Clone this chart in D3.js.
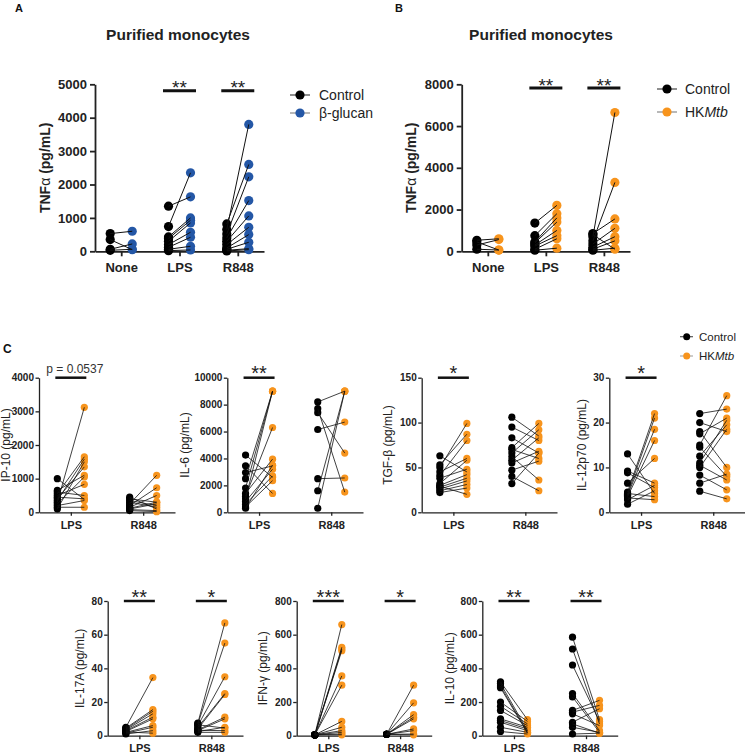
<!DOCTYPE html>
<html><head><meta charset="utf-8">
<script src="https://cdn.jsdelivr.net/npm/d3@7"></script>
<style>body{margin:0;background:#fff}svg{display:block}</style>
</head><body><svg id="c" width="745" height="756"></svg>
<script>
// ---------------- DATA ----------------
const tnfCats = ["None", "LPS", "R848"];
const cCats = ["LPS", "R848"];
const legendA = ["Control", "β-glucan"];
const legendB = ["Control", "HKMtb"];

// pairs: [control, treated]
const aNone = [[530, 600], [350, 50], [60, 220], [30, 60]];
const aLPS = [[1350, 1630], [740, 2350], [430, 1000], [380, 930], [300, 850], [200, 570], [120, 420], [60, 150], [20, 40]];
const aR848 = [[820, 2600], [650, 3800], [520, 2230], [400, 1520], [300, 1060], [200, 720], [100, 500], [60, 270], [30, 80], [10, 50]];

const bNone = [[530, 600], [450, 60], [300, 560], [100, 60]];
const bLPS = [[1350, 2200], [750, 1800], [450, 1600], [400, 1400], [300, 1000], [250, 750], [100, 600], [50, 150]];
const bR848 = [[850, 1550], [700, 6650], [500, 3300], [350, 1100], [200, 700], [100, 500], [50, 150], [800, 100]];

const ip10LPS = [[1000, 380], [650, 1100], [600, 500], [550, 1650], [500, 830], [450, 400], [400, 1350], [350, 1580], [300, 3120], [250, 1050], [200, 350], [150, 150], [100, 1500]];
const ip10R848 = [[450, 100], [400, 300], [350, 200], [300, 150], [250, 1100], [200, 730], [150, 500], [100, 250], [80, 50], [50, 20], [120, 300]];

const il6LPS = [[4250, 2600], [3450, 1400], [2950, 3450], [2500, 9000], [1800, 9000], [1400, 3950], [1200, 6300], [1000, 9000], [800, 3200], [600, 2700], [400, 2350], [300, 3500]];
const il6R848 = [[8200, 9000], [7700, 1500], [7400, 4400], [6150, 6700], [2500, 2550], [1600, 9000], [300, 9000]];

const tgfLPS = [[63, 45], [53, 87], [50, 99], [45, 60], [41, 80], [38, 48], [32, 58], [30, 42], [28, 38], [26, 35], [24, 31], [22, 27], [29, 20]];
const tgfR848 = [[106, 85], [95, 80], [83, 66], [72, 99], [70, 60], [66, 92], [62, 36], [58, 83], [55, 68], [47, 57], [40, 24], [32, 66]];

const il12LPS = [[13, 4.2], [9.2, 6.5], [8.8, 5.5], [6.5, 12], [4.5, 22], [4, 21], [3.8, 18.5], [3.5, 16], [2.8, 6], [1.8, 4.8], [4.2, 3.5], [3.2, 2.8]];
const il12R848 = [[22, 23], [20, 18], [18, 10], [17.5, 21], [15, 26], [14.5, 8], [12.5, 19.5], [11, 20.5], [10.5, 7.2], [10, 18.5], [8.3, 5], [6.5, 8.5], [4.7, 3]];

const il17LPS = [[5, 34.5], [4.5, 15.5], [4, 14.5], [3.5, 13], [3, 11], [2.5, 10], [2, 6], [1.5, 5], [1, 3], [2.2, 1.5]];
const il17R848 = [[7.5, 67], [7, 55], [6, 35], [5, 25], [4, 24.5], [3.5, 11], [3, 10], [2.5, 5], [6.5, 4.5], [3.2, 3], [2, 2]];

const ifnLPS = [[5, 660], [5, 525], [5, 515], [5, 505], [5, 355], [5, 300], [5, 85], [5, 50], [5, 30], [5, 20], [5, 10], [5, 5]];
const ifnR848 = [[8, 300], [8, 195], [8, 125], [8, 110], [8, 100], [8, 40], [8, 30], [8, 10], [8, 5]];

const il10LPS = [[320, 95], [310, 30], [295, 20], [285, 15], [200, 85], [175, 70], [150, 60], [100, 50], [90, 40], [80, 30], [50, 20], [25, 10]];
const il10R848 = [[585, 95], [515, 70], [420, 85], [250, 30], [230, 20], [150, 210], [140, 180], [130, 60], [80, 160], [70, 15], [50, 20], [10, 15]];

const ticksA = [0, 1000, 2000, 3000, 4000, 5000];
const ticksB = [0, 2000, 4000, 6000, 8000];
const ticksIP10 = [0, 1000, 2000, 3000, 4000];
const ticksIL6 = [0, 2000, 4000, 6000, 8000, 10000];
const ticksTGF = [0, 50, 100, 150];
const ticksIL12 = [0, 10, 20, 30];
const ticksIL17 = [0, 20, 40, 60, 80];
const ticksIFN = [0, 200, 400, 600, 800];
const ticksIL10 = [0, 200, 400, 600, 800];

// ---------------- STYLE ----------------
const FONT = '"Liberation Sans", Arial, Helvetica, sans-serif';
const BLUE = "#2457a6", ORANGE = "#f7941d", BLACK = "#000";
const BIG = {axisW: 1.8, tick: 5, pad: 3, xpad: 6, tickFont: 13, r: 4.6, lineW: 1, labFont: 14, labBold: true, sigFont: 19, sigDy: 3.5, barW: 3, barHalf: 16.5};
const SMALL = {axisW: 1.3, tick: 3.5, pad: 1.5, xpad: 5, tickFont: 10, r: 3.6, lineW: 0.8, labFont: 12, labBold: false, sigFont: 20, sigDy: 2.5, barW: 2.5, barHalf: 15.5};

const svg = d3.select("#c");

function panel(o) {
  const s = o.big ? BIG : SMALL;
  const g = svg.append("g");
  const y = d3.scaleLinear().domain([0, d3.max(o.ticks)]).range([o.yBot, o.yTop]);
  const x = d3.scalePoint().domain(o.cats).range([o.x0, o.x1]).padding(o.pad);
  const off = d3.scalePoint().domain([0, 1]).range([-o.dx, o.dx]);

  const yAx = g.append("g").attr("transform", `translate(${o.x0},0)`)
    .call(d3.axisLeft(y).tickValues(o.ticks).tickFormat(d3.format("d")).tickSizeInner(s.tick).tickSizeOuter(0).tickPadding(s.pad));
  const xAx = g.append("g").attr("transform", `translate(0,${o.yBot})`)
    .call(d3.axisBottom(x).tickSizeInner(s.tick).tickSizeOuter(0).tickPadding(s.xpad));
  [yAx, xAx].forEach(a => {
    a.selectAll("path,line").attr("stroke", "#222").attr("stroke-width", s.axisW);
    a.selectAll("text").attr("font-size", s.tickFont).attr("font-weight", "bold").attr("fill", "#222").attr("font-family", FONT);
  });
  xAx.selectAll("text").attr("font-size", o.big ? 13 : 11);

  o.series.forEach((pairs, i) => {
    const c = x(o.cats[i]);
    const cx0 = c + off(0), cx1 = c + off(1);
    g.append("g").selectAll("circle").data(pairs).join("circle")
      .attr("cx", cx0).attr("cy", d => y(d[0])).attr("r", s.r).attr("fill", BLACK);
    g.append("g").selectAll("circle").data(pairs).join("circle")
      .attr("cx", cx1).attr("cy", d => y(d[1])).attr("r", s.r).attr("fill", o.color);
    g.append("g").selectAll("line").data(pairs).join("line")
      .attr("x1", cx0).attr("x2", cx1).attr("y1", d => y(d[0])).attr("y2", d => y(d[1]))
      .attr("stroke", "#111").attr("stroke-width", s.lineW);
  });

  (o.sig || []).forEach(sg => {
    const c = x(sg.cat);
    const by = o.yTop + (o.sigOff || 0);
    g.append("line").attr("x1", c - s.barHalf).attr("x2", c + s.barHalf).attr("y1", by).attr("y2", by)
      .attr("stroke", "#111").attr("stroke-width", s.barW);
    if (sg.p) {
      g.append("text").attr("x", c + 4).attr("y", by - 5).attr("text-anchor", "middle")
        .attr("font-family", FONT).attr("font-size", 12).attr("fill", "#333").text(sg.label);
    } else {
      g.append("text").attr("x", c).attr("y", by + s.sigDy).attr("text-anchor", "middle")
        .attr("font-family", FONT).attr("font-size", s.sigFont).attr("fill", "#222").text(sg.label);
    }
  });

  const lab = g.append("text")
    .attr("transform", `translate(${o.x0 - o.labOff},${(o.yTop + o.yBot) / 2}) rotate(-90)`)
    .attr("text-anchor", "middle").attr("font-family", FONT).attr("font-size", s.labFont)
    .attr("font-weight", s.labBold ? "bold" : "normal").attr("fill", "#222");
  o.label.forEach(p => lab.append("tspan").attr("font-weight", p.w || null).text(p.t));
}

function legend(items, colors, lx0, lx1, dotX, textX, ys, r, fs, lineCols) {
  items.forEach((it, i) => {
    const y = ys[i];
    svg.append("line").attr("x1", lx0).attr("x2", lx1).attr("y1", y).attr("y2", y)
      .attr("stroke", lineCols[i]).attr("stroke-width", 1.2);
    svg.append("circle").attr("cx", dotX).attr("cy", y).attr("r", r).attr("fill", colors[i]);
    const t = svg.append("text").attr("x", textX).attr("y", y).attr("dy", "0.35em")
      .attr("font-family", FONT).attr("font-size", fs).attr("fill", "#222");
    if (it === "HKMtb") {
      t.append("tspan").text("HK");
      t.append("tspan").attr("font-style", "italic").text("Mtb");
    } else t.text(it);
  });
}

function letter(t, x, y, fs) {
  svg.append("text").attr("x", x).attr("y", y).attr("font-family", FONT).attr("font-weight", "bold")
    .attr("font-size", fs).attr("fill", "#111").text(t);
}
function title(t, x, y) {
  svg.append("text").attr("x", x).attr("y", y).attr("text-anchor", "middle").attr("font-family", FONT)
    .attr("font-weight", "bold").attr("font-size", 15.5).attr("fill", "#222").text(t);
}

// ---------------- PANELS A & B ----------------
letter("A", 15, 12, 11);
letter("B", 395, 12, 11);
letter("C", 3, 353, 12);
title("Purified monocytes", 178, 40);
title("Purified monocytes", 541, 40);

panel({big: true, x0: 95, x1: 264, pad: 0.45, dx: 11, yTop: 84.3, yBot: 251.3, cats: tnfCats,
  series: [aNone, aLPS, aR848], ticks: ticksA, color: BLUE, labOff: 45, sigOff: 6.5,
  label: [{t: "TNF"}, {t: "α", w: "normal"}, {t: " (pg/mL)"}],
  sig: [{cat: "LPS", label: "**"}, {cat: "R848", label: "**"}]});
legend(legendA, [BLACK, BLUE], 290, 310, 300, 319, [95, 113], 4.6, 14, ["#444", "#888"]);

panel({big: true, x0: 461.7, x1: 630, pad: 0.45, dx: 11, yTop: 84.3, yBot: 251.3, cats: tnfCats,
  series: [bNone, bLPS, bR848], ticks: ticksB, color: ORANGE, labOff: 46, sigOff: 3.7,
  label: [{t: "TNF"}, {t: "α", w: "normal"}, {t: " (pg/mL)"}],
  sig: [{cat: "LPS", label: "**"}, {cat: "R848", label: "**"}]});
legend(legendB, [BLACK, ORANGE], 657, 677, 667, 685, [89, 112], 4.6, 14, ["#444", "#888"]);

// ---------------- PANEL C ----------------
const r1Top = 377.7, r1Bot = 512.3, r2Top = 601, r2Bot = 735.7;
panel({x0: 39, x1: 175, pad: 0.44, dx: 13.5, yTop: r1Top, yBot: r1Bot, cats: cCats,
  series: [ip10LPS, ip10R848], ticks: ticksIP10, color: ORANGE, labOff: 29.5,
  label: [{t: "IP-10 (pg/mL)"}], sig: [{cat: "LPS", label: "p = 0.0537", p: true}]});
panel({x0: 227.3, x1: 363, pad: 0.44, dx: 13.5, yTop: r1Top, yBot: r1Bot, cats: cCats,
  series: [il6LPS, il6R848], ticks: ticksIL6, color: ORANGE, labOff: 38,
  label: [{t: "IL-6 (pg/mL)"}], sig: [{cat: "LPS", label: "**"}]});
panel({x0: 421.7, x1: 557, pad: 0.44, dx: 13.5, yTop: r1Top, yBot: r1Bot, cats: cCats,
  series: [tgfLPS, tgfR848], ticks: ticksTGF, color: ORANGE, labOff: 30,
  label: [{t: "TGF-"}, {t: "β", w: "normal"}, {t: " (pg/mL)"}], sig: [{cat: "LPS", label: "*"}]});
panel({x0: 609.3, x1: 745, pad: 0.44, dx: 13.5, yTop: r1Top, yBot: r1Bot, cats: cCats,
  series: [il12LPS, il12R848], ticks: ticksIL12, color: ORANGE, labOff: 23,
  label: [{t: "IL-12p70 (pg/mL)"}], sig: [{cat: "LPS", label: "*"}]});
legend(legendB, [BLACK, ORANGE], 680, 693, 686.7, 699, [336.7, 356], 3.5, 11.5, ["#555", "#aaa"]);

panel({x0: 107.7, x1: 243, pad: 0.44, dx: 13.5, yTop: r2Top, yBot: r2Bot, cats: cCats,
  series: [il17LPS, il17R848], ticks: ticksIL17, color: ORANGE, labOff: 24,
  label: [{t: "IL-17A (pg/mL)"}], sig: [{cat: "LPS", label: "**"}, {cat: "R848", label: "*"}]});
panel({x0: 296.7, x1: 431.7, pad: 0.44, dx: 13.5, yTop: r2Top, yBot: r2Bot, cats: cCats,
  series: [ifnLPS, ifnR848], ticks: ticksIFN, color: ORANGE, labOff: 30,
  label: [{t: "IFN-"}, {t: "γ"}, {t: " (pg/mL)"}], sig: [{cat: "LPS", label: "***"}, {cat: "R848", label: "*"}]});
panel({x0: 482.3, x1: 617.7, pad: 0.44, dx: 13.5, yTop: r2Top, yBot: r2Bot, cats: cCats,
  series: [il10LPS, il10R848], ticks: ticksIL10, color: ORANGE, labOff: 28,
  label: [{t: "IL-10 (pg/mL)"}], sig: [{cat: "LPS", label: "**"}, {cat: "R848", label: "**"}]});
</script></body></html>
